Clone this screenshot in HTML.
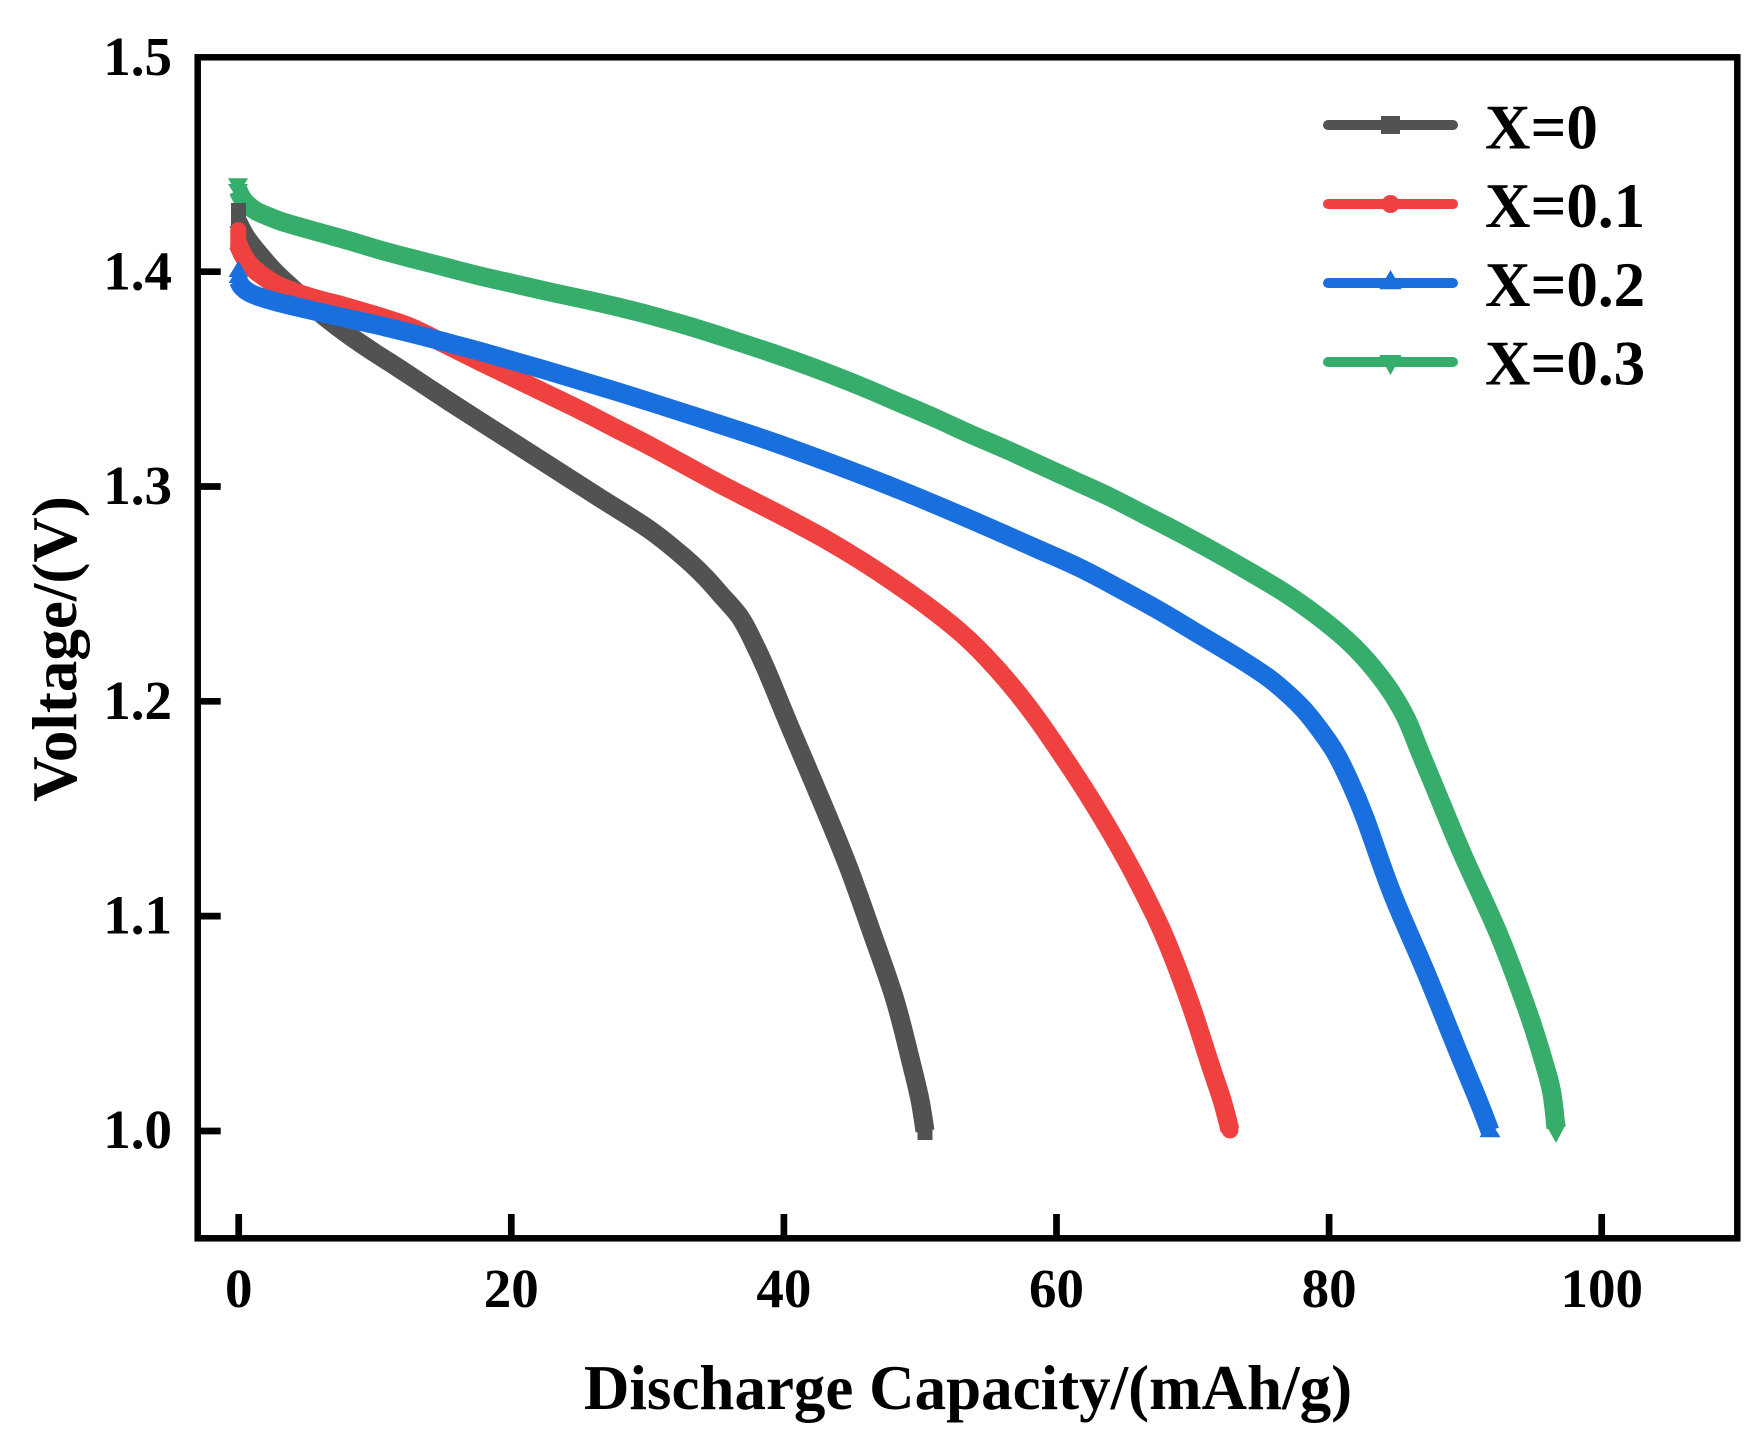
<!DOCTYPE html>
<html>
<head>
<meta charset="utf-8">
<style>
  html, body { margin: 0; padding: 0; background: #ffffff; }
  svg { display: block; }
  text { font-family: "Liberation Serif", "Times New Roman", serif; font-weight: bold; fill: #000; }
</style>
</head>
<body>
<svg id="chart" width="1757" height="1448" viewBox="0 0 1757 1448" xmlns="http://www.w3.org/2000/svg">
  <rect x="0" y="0" width="1757" height="1448" fill="#ffffff"/>

  <!-- Curves -->
  <g id="curves" fill="none" stroke-width="19" stroke-linejoin="round" stroke-linecap="butt">
    <!-- X=0 black -->
    <polyline class="smooth" stroke="#525252" points="238,222 246,237 260,255 277,274 300,295 325,317 350,336 375,353 400,369 450,402 500,434 550,466 600,498 650,530 685,558 705,577 722,596 740,617 753,641 766,669 790,727 821,800 848,866 872,933 895,1000 912,1066 920,1100 925,1131"/>
    <!-- X=0.1 red -->
    <polyline class="smooth" stroke="#F04141" points="238,244 243,255 250,265 260,274 277,285 300,294 320,300 343,306 377,316 410,327 443,343 477,360 510,376 545,393 580,410 615,428 650,446 685,465 720,484 755,502 790,520 825,539 860,560 895,583 930,608 960,632 985,656 1010,684 1035,716 1060,752 1085,790 1110,831 1135,876 1163,933 1189,1000 1211,1067 1222,1100 1230,1130"/>
    <!-- X=0.2 blue -->
    <polyline class="smooth" stroke="#1A6FDF" points="238,280 242,287 250,293 260,297 277,302 310,310 343,317.5 377,325 410,333 443,341.5 477,350.5 510,360 545,370 580,380.5 615,391 650,402 700,418 767,440 833,464 900,490 967,518 1033,547 1080,568 1120,589 1160,611 1200,635 1240,659 1270,679 1290,696 1305,711 1320,730 1335,752 1350,782 1365,818 1392,893 1427,975 1459,1054 1478,1100 1490,1131"/>
    <!-- X=0.3 green -->
    <polyline class="smooth" stroke="#37AD6B" points="238,190 242,198 248,205 256,211 266,215.5 280,221 300,227 325,234 350,241 380,250 410,258 445,267 480,276 515,284 550,292 585,299.5 620,307.5 655,316.5 690,326.5 725,337.5 760,349 795,361 830,374 865,388 900,403 935,418 970,434 1005,449 1040,465 1075,481 1110,497 1145,515 1180,533 1215,552 1250,572 1285,593 1315,614 1340,634 1360,653 1378,674 1393,695 1407,720 1420,752 1435,788 1462,853 1499,935 1528,1012 1545,1066 1552,1094 1556,1128"/>
  </g>

  <!-- Start markers (stacked) -->
  <rect x="231" y="203" width="15" height="27" fill="#525252"/>
  <rect x="230.3" y="230" width="16" height="16" fill="#F04141"/>
  <circle cx="238.3" cy="230" r="8" fill="#F04141"/>
  <circle cx="238.3" cy="246" r="8" fill="#F04141"/>
  <polygon points="238.3,260.7 248,277 228.6,277" fill="#1A6FDF"/>
  <polygon points="238.3,267 248,283 228.6,283" fill="#1A6FDF"/>
  <polygon points="228,178.3 248,178.3 238,195" fill="#37AD6B"/>
  <polygon points="228,184 248,184 238,200" fill="#37AD6B"/>

  <!-- End markers -->
  <rect x="917.5" y="1125" width="15" height="15" fill="#525252"/>
  <circle cx="1230" cy="1130" r="8.5" fill="#F04141"/>
  <polygon points="1490,1120 1500.5,1137.3 1479.5,1137.3" fill="#1A6FDF"/>
  <polygon points="1545.5,1124 1566,1124 1556,1143" fill="#37AD6B"/>

  <!-- Frame -->
  <rect x="197.7" y="57.3" width="1539.6" height="1181" fill="none" stroke="#000" stroke-width="6.5"/>

  <!-- Y ticks -->
  <g stroke="#000" stroke-width="6.7">
    <line x1="197.7" y1="271.7" x2="220.7" y2="271.7"/>
    <line x1="197.7" y1="486.5" x2="220.7" y2="486.5"/>
    <line x1="197.7" y1="701.3" x2="220.7" y2="701.3"/>
    <line x1="197.7" y1="916.1" x2="220.7" y2="916.1"/>
    <line x1="197.7" y1="1131" x2="220.7" y2="1131"/>
  </g>
  <!-- X ticks -->
  <g stroke="#000" stroke-width="6.7">
    <line x1="238.7" y1="1214" x2="238.7" y2="1238"/>
    <line x1="511.3" y1="1214" x2="511.3" y2="1238"/>
    <line x1="783.9" y1="1214" x2="783.9" y2="1238"/>
    <line x1="1056.5" y1="1214" x2="1056.5" y2="1238"/>
    <line x1="1329.1" y1="1214" x2="1329.1" y2="1238"/>
    <line x1="1601.7" y1="1214" x2="1601.7" y2="1238"/>
  </g>

  <!-- Y tick labels -->
  <g font-size="55" text-anchor="end">
    <text x="172" y="75">1.5</text>
    <text x="172" y="289.5">1.4</text>
    <text x="172" y="504">1.3</text>
    <text x="172" y="718.8">1.2</text>
    <text x="172" y="933.6">1.1</text>
    <text x="172" y="1148">1.0</text>
  </g>
  <!-- X tick labels -->
  <g font-size="55" text-anchor="middle">
    <text x="238.7" y="1307">0</text>
    <text x="511.3" y="1307">20</text>
    <text x="783.9" y="1307">40</text>
    <text x="1056.5" y="1307">60</text>
    <text x="1329.1" y="1307">80</text>
    <text x="1601.7" y="1307">100</text>
  </g>

  <!-- Axis labels -->
  <text x="968" y="1409" font-size="63" text-anchor="middle">Discharge Capacity/(mAh/g)</text>
  <text transform="translate(76,649) rotate(-90)" x="0" y="0" font-size="63" text-anchor="middle">Voltage/(V)</text>

  <!-- Legend -->
  <g stroke-width="10" stroke-linecap="round">
    <line x1="1328" y1="125" x2="1453" y2="125" stroke="#525252"/>
    <line x1="1328" y1="204" x2="1453" y2="204" stroke="#F04141"/>
    <line x1="1328" y1="283" x2="1453" y2="283" stroke="#1A6FDF"/>
    <line x1="1328" y1="362" x2="1453" y2="362" stroke="#37AD6B"/>
  </g>
  <rect x="1381" y="116" width="19" height="18" fill="#525252"/>
  <circle cx="1390.5" cy="204" r="9" fill="#F04141"/>
  <polygon points="1390.5,270 1401.7,289.3 1379.3,289.3" fill="#1A6FDF"/>
  <polygon points="1379.3,355 1401.7,355 1390.5,375" fill="#37AD6B"/>
  <g font-size="63">
    <text x="1485" y="148.3">X=0</text>
    <text x="1485" y="227">X=0.1</text>
    <text x="1485" y="305.8">X=0.2</text>
    <text x="1485" y="384.5">X=0.3</text>
  </g>
</svg>
<script>
(function(){
  try {
    var NS = "http://www.w3.org/2000/svg";
    var polys = document.querySelectorAll("polyline.smooth");
    for (var i = 0; i < polys.length; i++) {
      var pl = polys[i];
      var raw = pl.getAttribute("points").trim().split(/\s+/);
      var p = raw.map(function(s){ var a = s.split(","); return [parseFloat(a[0]), parseFloat(a[1])]; });
      if (p.length < 3) continue;
      var d = "M" + p[0][0] + "," + p[0][1];
      for (var k = 0; k < p.length - 1; k++) {
        var p0 = p[k - 1] || p[k];
        var p1 = p[k];
        var p2 = p[k + 1];
        var p3 = p[k + 2] || p[k + 1];
        var c1x = p1[0] + (p2[0] - p0[0]) / 6;
        var c1y = p1[1] + (p2[1] - p0[1]) / 6;
        var c2x = p2[0] - (p3[0] - p1[0]) / 6;
        var c2y = p2[1] - (p3[1] - p1[1]) / 6;
        d += " C" + c1x.toFixed(2) + "," + c1y.toFixed(2) + " " + c2x.toFixed(2) + "," + c2y.toFixed(2) + " " + p2[0] + "," + p2[1];
      }
      var path = document.createElementNS(NS, "path");
      path.setAttribute("d", d);
      path.setAttribute("stroke", pl.getAttribute("stroke"));
      pl.parentNode.insertBefore(path, pl);
      pl.setAttribute("stroke-opacity", "0");
    }
  } catch (e) {}
})();
</script>
</body>
</html>
